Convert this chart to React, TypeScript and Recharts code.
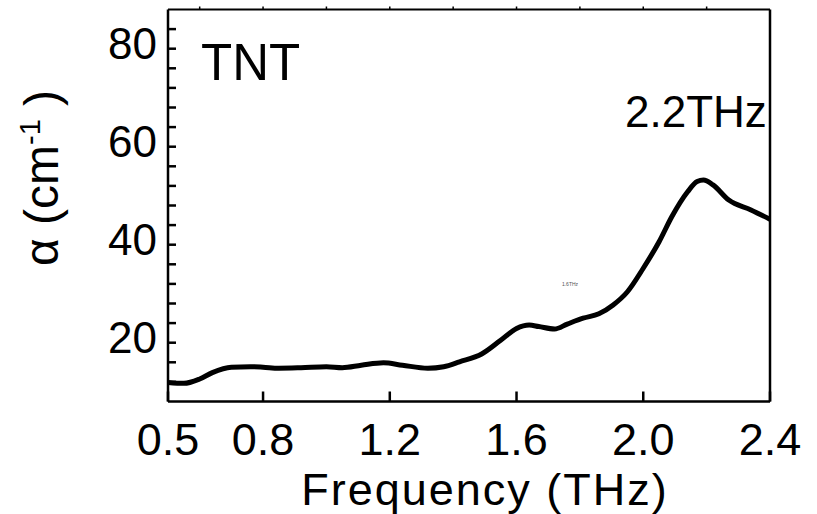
import React from 'react';
import { LineChart, Line, XAxis, YAxis } from 'recharts';

const freq = [0.5, 0.55, 0.6, 0.64, 0.7, 0.76, 0.8, 0.85, 0.92, 1.0, 1.05, 1.11, 1.18, 1.24, 1.32, 1.37, 1.42, 1.49, 1.55, 1.6, 1.64, 1.67, 1.72, 1.76, 1.81, 1.86, 1.905, 1.95, 2.0, 2.05, 2.09, 2.14, 2.17, 2.19, 2.22, 2.27, 2.34, 2.4];
const alpha = [11.9, 11.7, 12.6, 13.9, 15.0, 15.1, 15.0, 14.8, 14.9, 15.1, 14.9, 15.4, 15.9, 15.4, 14.8, 15.1, 16.1, 17.7, 20.5, 22.9, 23.6, 23.3, 22.8, 23.8, 25.0, 25.9, 27.7, 30.4, 35.2, 40.6, 45.7, 50.8, 52.9, 53.2, 52.2, 49.1, 47.1, 45.2];

const xLabelTicks = [0.5, 0.8, 1.2, 1.6, 2.0, 2.4];
const xMinorTicks = [0.6, 1.0, 1.4, 1.8, 2.2];
const xTopTicks = [0.6, 0.8, 1.0, 1.2, 1.4, 1.6, 1.8, 2.0, 2.2];
const yTicks = [12, 16, 20, 24, 28, 32, 36, 40, 44, 48, 52, 56, 60, 64, 68, 72, 76, 80, 84];
const yLabelTicks = [20, 40, 60, 80];
const xDomain = [0.5, 2.4];
const yDomain = [8, 88];

const data = freq.map((f, i) => ({ f, a: alpha[i] }));

const FONT = '"Liberation Sans", Arial, sans-serif';
const AXIS_LINE = { stroke: '#000', strokeWidth: 2.5 };
const TICK_LINE = { stroke: '#000', strokeWidth: 2.5 };

const XLabel = (props: any) => {
  const { x, y, payload } = props;
  const v = payload.value;
  return (
    <text x={x} y={y + 63} textAnchor="middle" fontSize={45} fontFamily={FONT} fill="#000">
      {v.toFixed(1)}
    </text>
  );
};

const YLabel = (props: any) => {
  const { x, y, payload } = props;
  const v = payload.value;
  if (!yLabelTicks.includes(v)) return <g />;
  return (
    <text x={x - 19} y={y + 10} textAnchor="end" fontSize={44} fontFamily={FONT} fill="#000">
      {v}
    </text>
  );
};

const Empty = () => <g />;

export default function App() {
  return (
    <div style={{ position: 'absolute', left: 0, top: 0, background: '#fff' }}>
      <LineChart width={817} height={514} data={data} margin={{ top: 0, right: 0, bottom: 0, left: 0 }}>
        <XAxis
          xAxisId="minor"
          dataKey="f"
          type="number"
          domain={xDomain}
          ticks={xMinorTicks}
          interval={0}
          allowDataOverflow
          height={0}
          tickSize={-5}
          tickMargin={0}
          tickLine={TICK_LINE}
          axisLine={false}
          tick={<Empty />}
        />
        <XAxis
          xAxisId="main"
          dataKey="f"
          type="number"
          domain={xDomain}
          ticks={xLabelTicks}
          interval={0}
          allowDataOverflow
          height={112.5}
          tickSize={-10}
          tickMargin={0}
          tickLine={TICK_LINE}
          axisLine={AXIS_LINE}
          tick={<XLabel />}
        />
        <XAxis
          xAxisId="top"
          orientation="top"
          dataKey="f"
          type="number"
          domain={xDomain}
          ticks={xTopTicks}
          interval={0}
          allowDataOverflow
          height={9.5}
          tickSize={3}
          tickMargin={0}
          tickLine={{ stroke: '#000', strokeWidth: 1.5 }}
          axisLine={{ stroke: '#000', strokeWidth: 2 }}
          tick={<Empty />}
        />
        <YAxis
          yAxisId="main"
          type="number"
          domain={yDomain}
          ticks={yTicks}
          interval={0}
          allowDataOverflow
          width={168}
          tickSize={-8}
          tickMargin={0}
          tickLine={TICK_LINE}
          axisLine={AXIS_LINE}
          tick={<YLabel />}
        />
        <YAxis
          yAxisId="right"
          orientation="right"
          type="number"
          domain={yDomain}
          width={47}
          tickLine={false}
          tick={<Empty />}
          axisLine={AXIS_LINE}
        />
        <Line
          xAxisId="main"
          yAxisId="main"
          dataKey="a"
          type="monotone"
          stroke="#000"
          strokeWidth={5}
          dot={false}
          isAnimationActive={false}
        />
        <text x={201} y={80} fontSize={51} fontFamily={FONT} fill="#000">TNT</text>
        <text x={625} y={127} fontSize={44} fontFamily={FONT} fill="#000">2.2THz</text>
        <text x={570} y={286} fontSize={5} textAnchor="middle" fontFamily={FONT} fill="#555">1.6THz</text>
        <text x={485} y={505} fontSize={45} letterSpacing={2} textAnchor="middle" fontFamily={FONT} fill="#000">Frequency (THz)</text>
        <text
          x={0}
          y={0}
          transform="translate(58,178) rotate(-90)"
          fontSize={48}
          textAnchor="middle"
          fontFamily={FONT}
          fill="#000"
        >
          {'\u03B1 (cm'}
          <tspan dy={-18} fontSize={29}>-1</tspan>
          <tspan dy={18}>{' )'}</tspan>
        </text>
      </LineChart>
    </div>
  );
}
